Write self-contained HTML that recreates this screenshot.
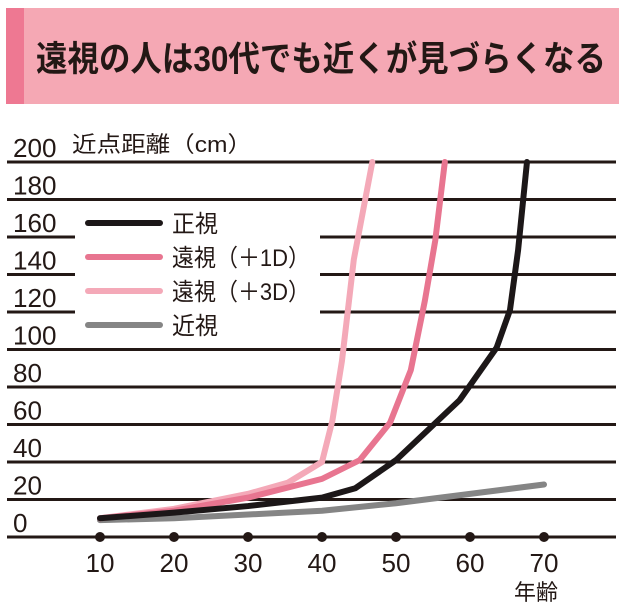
<!DOCTYPE html>
<html><head><meta charset="utf-8"><style>
body{margin:0;background:#fff;width:630px;height:607px;overflow:hidden}
text{font-family:"Liberation Sans","Noto Sans CJK JP",sans-serif}
</style></head><body>
<svg width="630" height="607" viewBox="0 0 630 607">
<rect x="6" y="8" width="613" height="96" fill="#f5a8b4"/>
<rect x="6" y="8" width="18" height="96" fill="#ee7892"/>
<text x="36" y="71" font-size="35" font-weight="bold" fill="#231815" textLength="570" lengthAdjust="spacingAndGlyphs">遠視の人は30代でも近くが見づらくなる</text>
<g id="grid"></g>
<text x="72" y="152" font-size="22" fill="#231815" textLength="180" lengthAdjust="spacingAndGlyphs">近点距離（cm）</text>
<g id="series"></g>
<rect x="75" y="203" width="245" height="140" fill="#fff"/>
<g id="legend"></g>
<text x="514" y="600" font-size="22" fill="#231815">年齢</text>
</svg>
<script>
const yTicks=[0,20,40,60,80,100,120,140,160,180,200];
const xTicks=[10,20,30,40,50,60,70];
const normalAges=[10,20,30,40,44.5,50,58.6,63.6,65.4,66.5,67.7];
const normalVals=[10,13,16.5,21,26,41,73,101,121,153,200];
const plus1Ages=[10,20,30,40,45.1,49.2,52,53.9,55.3,56.6];
const plus1Vals=[10,14,21,31,41,61,89,126,158,200];
const plus3Ages=[10,20,30,35.4,40,41.4,42.7,44.3,46.8];
const plus3Vals=[10,15,23,29,40,62,94,148,200];
const myopiaAges=[10,20,30,40,50,60,70];
const myopiaVals=[9,10,12,14,18,23,28];
const NS="http://www.w3.org/2000/svg";
const X=a=>100+(a-10)*7.4;
const Y=v=>537-v*1.875;
const grid=document.getElementById('grid');
function mk(tag,attrs,parent){const e=document.createElementNS(NS,tag);for(const k in attrs)e.setAttribute(k,attrs[k]);parent.appendChild(e);return e;}
yTicks.forEach(v=>{
  const l=mk('line',{x1:7,x2:616,y1:Y(v),y2:Y(v),stroke:'#231815','stroke-width':3},grid);
  
  
  const t=mk('text',{x:13,y:Y(v)-5,'font-size':26,fill:'#231815',textLength:String(v).length*14.5,lengthAdjust:'spacingAndGlyphs'},grid);
  t.textContent=v;
  
  
});
xTicks.forEach(a=>{
  const c=mk('circle',{cx:X(a),cy:537,r:5,fill:'#231815'},grid);
  
  
  const t=mk('text',{x:X(a),y:572,'font-size':26,fill:'#231815','text-anchor':'middle',textLength:29,lengthAdjust:'spacingAndGlyphs'},grid);
  t.textContent=a;
  
  
});
const series=[
 ['myopia',myopiaAges,myopiaVals,'#858585'],
 ['hyperopia-plus3',plus3Ages,plus3Vals,'#f4a9b8'],
 ['hyperopia-plus1',plus1Ages,plus1Vals,'#e87590'],
 ['normal',normalAges,normalVals,'#1c1718']
];
const sg=document.getElementById('series');
series.forEach(([n,ages,vals,col])=>{
  const p=mk('polyline',{points:ages.map((a,i)=>X(a)+','+Y(vals[i])).join(' '),fill:'none',stroke:col,'stroke-width':6,'stroke-linejoin':'round','stroke-linecap':'round'},sg);
  
  
});
const legendLabels=['正視','遠視（＋1D）','遠視（＋3D）','近視'];
const legendWidths=[46,138,138,46];
const legendColors=['#1c1718','#e87590','#f4a9b8','#858585'];
const lg=document.getElementById('legend');
legendLabels.forEach((lab,i)=>{
  const y=223+i*34;
  const l=mk('line',{x1:88,x2:160,y1:y,y2:y,stroke:legendColors[i],'stroke-width':6,'stroke-linecap':'round'},lg);
  
  
  const t=mk('text',{x:172,y:y+9,'font-size':24,fill:'#231815',textLength:legendWidths[i],lengthAdjust:'spacingAndGlyphs'},lg);
  t.textContent=lab;
  
  
});
</script>
</body></html>
